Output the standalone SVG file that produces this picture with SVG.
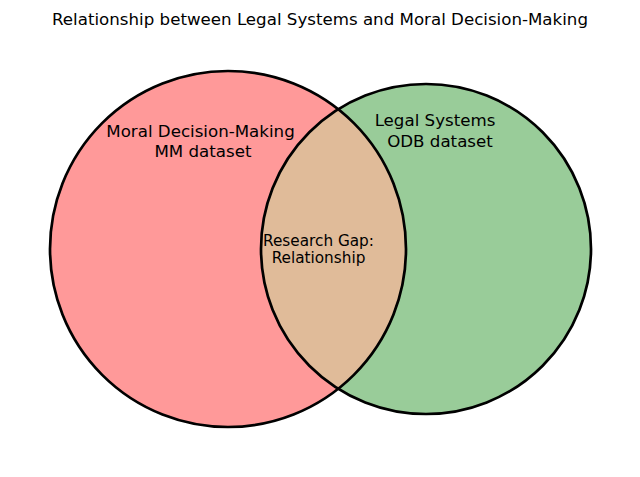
<svg xmlns="http://www.w3.org/2000/svg" width="640" height="477" viewBox="0 0 640 477">
<style>
text{font-family:"DejaVu Sans","Liberation Sans",sans-serif;fill:#000;text-anchor:middle}
.lbl{font-size:16.67px}
.mid{font-size:15.28px}
.title{font-size:16.67px}
.outline{fill:none;stroke:#000;stroke-width:2.7}
</style>
<rect width="640" height="477" fill="#fff"/>
<text class="title" x="320" y="25">Relationship between Legal Systems and Moral Decision-Making</text>
<g id="moral">
<circle cx="228" cy="249" r="178" fill="#ff9999"/>
</g>
<g id="legal">
<circle cx="426" cy="249" r="165" fill="#99cc99"/>
</g>
<g id="gap">
<path d="M338.3 109.3 A178 178 0 0 1 338.3 388.7 A165 165 0 0 1 338.3 109.3 Z" fill="#e0bb99"/>
</g>
<g id="connectors">
<circle class="outline" cx="228" cy="249" r="178"/>
<circle class="outline" cx="426" cy="249" r="165"/>
</g>
<g id="labels">
<text class="lbl" x="200.5" y="137">Moral Decision-Making</text>
<text class="lbl" x="203" y="157">MM dataset</text>
<text class="lbl" x="435" y="126">Legal Systems</text>
<text class="lbl" x="440" y="147">ODB dataset</text>
<text class="mid" x="318.5" y="246">Research Gap:</text>
<text class="mid" x="318.5" y="263">Relationship</text>
</g>
</svg>
